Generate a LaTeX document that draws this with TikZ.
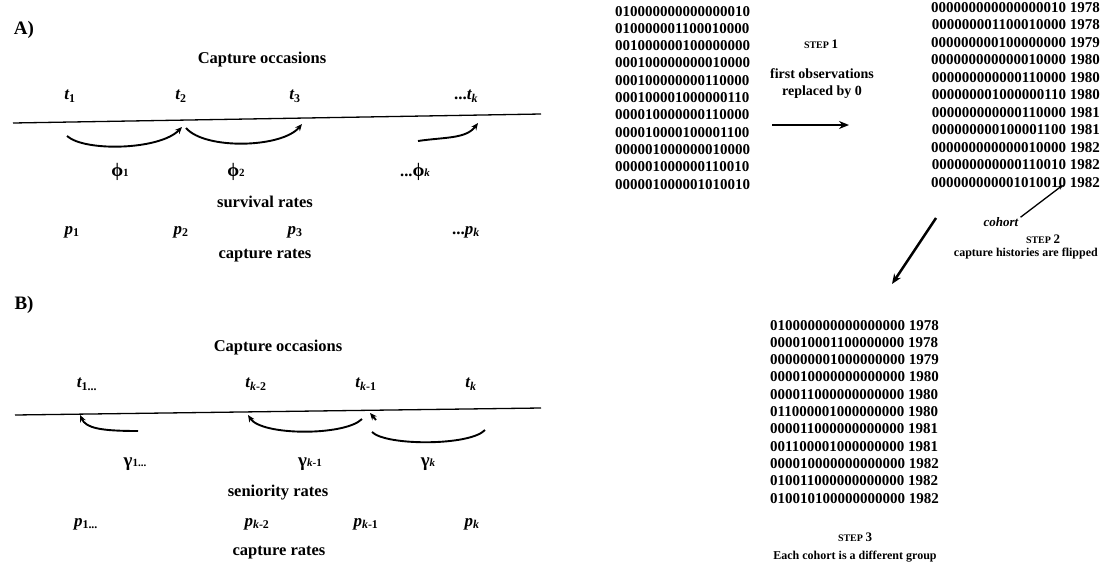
\documentclass[tikz,border=0pt]{standalone}
\usepackage{fontspec}
\setmainfont{Liberation Serif}
\usetikzlibrary{arrows.meta}
\begin{document}
\begin{tikzpicture}[x=1pt,y=-1pt,
  lbl/.style={inner sep=0pt, font=\bfseries\fontsize{16.5}{19}\selectfont},
  greek/.style={inner sep=0pt, font=\bfseries\fontsize{19}{21}\selectfont},
  var/.style={inner sep=0pt, font=\bfseries\itshape\fontsize{17}{19}\selectfont},
  bin/.style={inner sep=0pt, font=\bfseries\fontsize{15}{17}\selectfont},
  small/.style={inner sep=0pt, font=\bfseries\fontsize{12}{15}\selectfont},
  steplbl/.style={inner sep=0pt, font=\bfseries\fontsize{10}{11}\selectfont},
  curve/.style={line width=1.9pt, -{Stealth[length=7pt,width=6pt]}},
  plaincurve/.style={line width=1.9pt},
  bigarrow/.style={line width=2.5pt, -{Stealth[length=10pt,width=8pt]}},
  axis/.style={line width=1.3pt},
]
\useasboundingbox (0,0) rectangle (1101,576);

% ---------------- Panel A ----------------
\node[inner sep=0pt, font=\bfseries\fontsize{19}{22}\selectfont] (A) at (24,30) {A)};
\node[lbl] (coA) at (262,60) {Capture occasions};
\node[var] (tA1) at (70,96) {t\textsubscript{\upshape 1}};
\node[var] (tA2) at (181,96) {t\textsubscript{\upshape 2}};
\node[var] (tA3) at (295,96) {t\textsubscript{\upshape 3}};
\node[var] (tAk) at (466,96) {\upshape...\itshape t\textsubscript{k}};
\coordinate (LA1) at (13,123);
\coordinate (LA2) at (541,114);
\draw[axis] (LA1) -- (LA2);
\coordinate (a1s) at (67,136);
\coordinate (a1e) at (182,127);
\coordinate (a2s) at (186,128);
\coordinate (a2e) at (302,124);
\coordinate (a3s) at (418,141);
\coordinate (a3e) at (478,123);
\draw[curve] (a1s) .. controls (85,152) and (160,150) .. (a1e);
\draw[curve] (a2s) .. controls (205,150) and (282,148) .. (a2e);
\draw[curve] (a3s) .. controls (445,137) and (466,139) .. (a3e);
\node[greek] (f1) at (120,172) {ϕ{\fontsize{11}{11}\selectfont 1}};
\node[greek] (f2) at (236,172) {ϕ{\fontsize{11}{11}\selectfont 2}};
\node[greek] (fk) at (415,172) {{\fontsize{16.5}{19}\selectfont ...}ϕ{\fontsize{11}{11}\selectfont\itshape k}};
\node[lbl] (surv) at (265,202) {survival rates};
\node[var] (pA1) at (72,232) {p\textsubscript{\upshape 1}};
\node[var] (pA2) at (181,232) {p\textsubscript{\upshape 2}};
\node[var] (pA3) at (295,232) {p\textsubscript{\upshape 3}};
\node[var] (pAk) at (466,232) {\upshape...\itshape p\textsubscript{k}};
\node[lbl] (capA) at (265,256) {capture rates};

% ---------------- Panel B ----------------
\node[inner sep=0pt, font=\bfseries\fontsize{19}{22}\selectfont] (B) at (24,305) {B)};
\node[lbl] (coB) at (278,348) {Capture occasions};
\node[var] (tB1) at (87,384) {t\textsubscript{\upshape 1...}};
\node[var] (tB2) at (256,384) {t\textsubscript{k\upshape -2}};
\node[var] (tB3) at (366,384) {t\textsubscript{k\upshape -1}};
\node[var] (tBk) at (471,384) {t\textsubscript{k}};
\coordinate (LB1) at (15,415);
\coordinate (LB2) at (541,408);
\draw[axis] (LB1) -- (LB2);
\coordinate (b1s) at (138,431);
\coordinate (b1e) at (80,415);
\coordinate (b2s) at (362,419);
\coordinate (b2e) at (248,415);
\coordinate (b3s) at (485,430);
\coordinate (b3e) at (372,432);
\coordinate (b4s) at (376,420);
\coordinate (b4e) at (370,413);
\draw[curve] (b1s) .. controls (100,431) and (86,428) .. (b1e);
\draw[curve] (b2s) .. controls (345,436) and (262,436) .. (b2e);
\draw[plaincurve] (b3s) .. controls (470,446) and (386,446) .. (b3e);
\draw[curve] (b4s) -- (b4e);
\node[greek] (g1) at (135,464) {γ{\fontsize{11}{11}\selectfont 1...}};
\node[greek] (g2) at (310,464) {γ{\fontsize{11}{11}\selectfont\itshape k\upshape -1}};
\node[greek] (gk) at (428,464) {γ{\fontsize{11}{11}\selectfont\itshape k}};
\node[lbl] (sen) at (278,493) {seniority rates};
\node[var] (pB1) at (86,524) {p\textsubscript{\upshape 1...}};
\node[var] (pB2) at (257,524) {p\textsubscript{k\upshape -2}};
\node[var] (pB3) at (366,524) {p\textsubscript{k\upshape -1}};
\node[var] (pBk) at (472,524) {p\textsubscript{k}};
\node[lbl] (capB) at (279,553) {capture rates};

% ---------------- Right part ----------------
\foreach \s [count=\i] in {010000000000000010,010000001100010000,001000000100000000,
  000100000000010000,000100000000110000,000100001000000110,000010000000110000,
  000010000100001100,000001000000010000,000001000000110010,000001000001010010}
  \node[bin, anchor=base west] (l\i) at (615,{16+(\i-1)*17.3}) {\s};

\foreach \s [count=\i] in {000000000000000010 1978,000000001100010000 1978,000000000100000000 1979,
  000000000000010000 1980,000000000000110000 1980,000000001000000110 1980,000000000000110000 1981,
  000000000100001100 1981,000000000000010000 1982,000000000000110010 1982,000000000001010010 1982}
  \node[bin, anchor=base east] (r\i) at (1100,{12+(\i-1)*17.5}) {\s};

\foreach \s [count=\i] in {010000000000000000 1978,000010001100000000 1978,000000001000000000 1979,
  000010000000000000 1980,000011000000000000 1980,011000001000000000 1980,000011000000000000 1981,
  001100001000000000 1981,000010000000000000 1982,010011000000000000 1982,010010100000000000 1982}
  \node[bin, anchor=base west] (f\i) at (770,{330+(\i-1)*17.3}) {\s};

\node[steplbl] (s1) at (821,44) {STEP {\fontsize{13}{13}\selectfont 1}};
\node[inner sep=0pt, font=\bfseries\fontsize{14}{17}\selectfont, align=center] (s1t) at (822,84) {first observations\\replaced by 0};
\coordinate (st1a) at (772,125);
\coordinate (st1b) at (849,125);
\draw[bigarrow] (st1a) -- (st1b);

\node[inner sep=0pt, font=\bfseries\itshape\fontsize{13}{15}\selectfont] (coh) at (1001,222) {cohort};
\coordinate (ptr) at (1063,185);
\draw[line width=1.3pt, -{Stealth[length=5pt,width=4pt]}] (coh.north east) ++(2,0) -- (ptr);
\node[steplbl] (s2) at (1043,239) {STEP {\fontsize{13}{13}\selectfont 2}};
\node[small, anchor=east] (s2t) at (1098,254) {capture histories are flipped};
\coordinate (st2a) at (936,218);
\coordinate (st2b) at (892,284);
\draw[bigarrow] (st2a) -- (st2b);

\node[steplbl] (s3) at (855,537) {STEP {\fontsize{13}{13}\selectfont 3}};
\node[small] (s3t) at (855,557) {Each cohort is a different group};
\end{tikzpicture}
\end{document}
